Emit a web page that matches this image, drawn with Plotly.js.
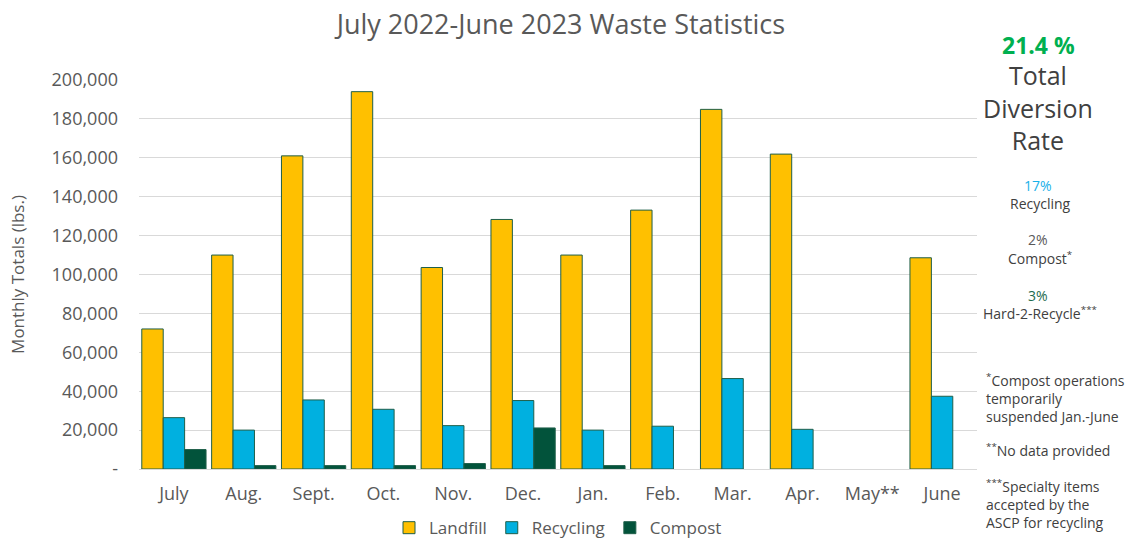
<!DOCTYPE html>
<html>
<head>
<meta charset="utf-8">
<script src="https://cdn.plot.ly/plotly-3.0.1.min.js"></script>
<style>html,body{margin:0;padding:0;background:#fff;}#chart{width:1140px;height:538px;}</style>
</head>
<body>
<div id="chart"></div>
<script>
const months = ["July","Aug.","Sept.","Oct.","Nov.","Dec.","Jan.","Feb.","Mar.","Apr.","May**","June"];
const landfill = [72000,110000,161000,194000,103600,128300,110000,133100,184900,161900,null,108600];
const recycling = [26400,20000,35500,30700,22300,35200,20000,22000,46500,20400,null,37400];
const compost = [10000,1750,1750,1750,2800,21100,1750,null,null,null,null,null];
const yTickVals = [0,20000,40000,60000,80000,100000,120000,140000,160000,180000,200000];
const yTickText = ["-","20,000","40,000","60,000","80,000","100,000","120,000","140,000","160,000","180,000","200,000"];
const diversionRate = "21.4 %";
const diversionLabel = "Total<br>Diversion<br>Rate";
const breakdownPct = ["17%","2%","3%"];
const breakdownLabel = ["Recycling","Compost<sup>*</sup>","Hard-2-Recycle<sup>***</sup>"];
const footnotes = ["<sup>*</sup>Compost operations<br>temporarily<br>suspended Jan.-June","<sup>**</sup>No data provided","<sup>***</sup>Specialty items<br>accepted by the<br>ASCP for recycling"];

const FONT = "'Open Sans', Lato, sans-serif";
const outline = {color:"#1f5f4a", width:1};
const traces = [
  {type:"bar", name:"Landfill", x:months, y:landfill, marker:{color:"#FFC000", line:outline}},
  {type:"bar", name:"Recycling", x:months, y:recycling, marker:{color:"#00B0E0", line:outline}},
  {type:"bar", name:"Compost", x:months, y:compost, marker:{color:"#02533B", line:outline}}
];

const ann = [];
ann.push({text:"<b>"+diversionRate+"</b>", x:1038, y:45, font:{size:23,color:"#00B050",family:FONT}});
ann.push({text:diversionLabel, x:1038, y:107, font:{size:25,color:"#404040",family:FONT}});
const pctColors = ["#1AB0E8","#595959","#1E6B4E"];
breakdownPct.forEach((p,i)=>{
  ann.push({text:p, x:1038, y:185+i*55, font:{size:14,color:pctColors[i],family:FONT}});
  ann.push({text:breakdownLabel[i], x:1040, y:203+i*55, font:{size:14,color:"#404040",family:FONT}});
});
const fnY = [398,450,504];
footnotes.forEach((f,i)=>ann.push({text:f, x:984, y:fnY[i], xanchor:"left", align:"left", font:{size:14,color:"#404040",family:FONT}}));
const annotations = ann.map(a=>Object.assign({xref:"paper", yref:"paper", showarrow:false, xanchor:"center", yanchor:"middle"}, a, {
  x:(a.x-139)/838, y:(469-a.y)/389
}));

const layout = {
  width:1140, height:538,
  margin:{l:139, r:163, t:80, b:69, autoexpand:false},
  paper_bgcolor:"#fff", plot_bgcolor:"#fff",
  font:{family:FONT, color:"#595959"},
  title:{text:"July 2022-June 2023 Waste Statistics", x:0.492, xanchor:"center", y:0.955, yanchor:"middle", font:{size:27,color:"#595959",family:FONT}},
  barmode:"group", bargap:0.08, bargroupgap:0,
  xaxis:{type:"category", showgrid:false, showline:true, linecolor:"#d9d9d9", linewidth:1, ticks:"", tickfont:{size:18,color:"#595959"}, ticklabelstandoff:8, automargin:false},
  yaxis:{range:[0,200000], tickvals:yTickVals, ticktext:yTickText, showgrid:true, gridcolor:"#d9d9d9", gridwidth:1, zeroline:false, showline:false, ticks:"", tickfont:{size:18,color:"#595959"}, ticklabelstandoff:20, automargin:false,
    title:{text:"Monthly Totals (lbs.)", font:{size:17,color:"#595959"}, standoff:22}},
  showlegend:true,
  legend:{orientation:"h", x:0.5, xanchor:"center", y:-0.152, yanchor:"middle", font:{size:17,color:"#595959"}, itemwidth:30, traceorder:"normal"},
  annotations:annotations
};
Plotly.newPlot("chart", traces, layout, {displayModeBar:false, staticPlot:true});
</script>
</body>
</html>
